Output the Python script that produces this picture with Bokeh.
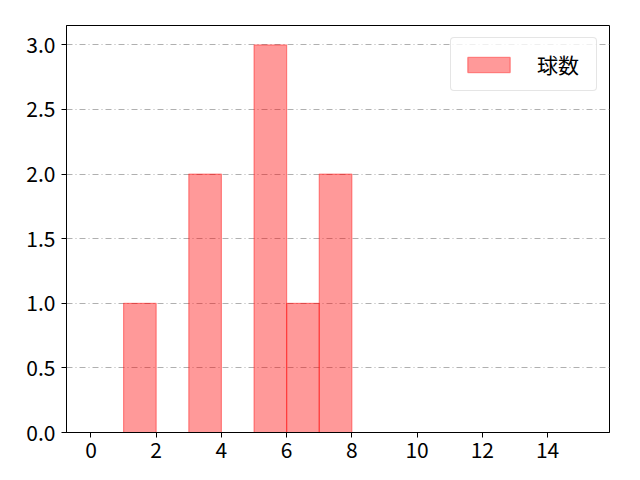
from bokeh.plotting import figure
from bokeh.models import ColumnDataSource, FixedTicker, Range1d, Legend, LegendItem, CustomJSTickFormatter
from bokeh.embed import file_html
from bokeh.resources import INLINE

# ヒストグラムのビン(幅1)と度数
bin_left = [1, 3, 5, 6, 7]
bin_right = [2, 4, 6, 7, 8]
counts = [1, 2, 3, 1, 2]
series_name = "球数"

x_ticks = [0, 2, 4, 6, 8, 10, 12, 14]
y_ticks = [0, 0.5, 1.0, 1.5, 2.0, 2.5, 3.0]

FONT = "Noto Sans CJK JP"

source = ColumnDataSource(data=dict(left=bin_left, right=bin_right, top=counts,
                                    bottom=[0] * len(counts)))

p = figure(width=624, height=464, output_backend="svg", toolbar_location=None,
           x_range=Range1d(-0.75, 15.9), y_range=Range1d(0, 3.15),
           min_border_left=66, min_border_right=15, min_border_top=25, min_border_bottom=32)

bars = p.quad(left="left", right="right", top="top", bottom="bottom", source=source,
              fill_color="red", fill_alpha=0.4, line_color="red", line_alpha=0.4, line_width=1.2)

p.xaxis.ticker = FixedTicker(ticks=x_ticks)
p.yaxis.ticker = FixedTicker(ticks=y_ticks)
p.yaxis.formatter = CustomJSTickFormatter(code="return tick.toFixed(1);")

for ax in (p.xaxis, p.yaxis):
    ax.major_label_text_font = FONT
    ax.major_label_text_font_size = "21px"
    ax.major_label_text_color = "black"
    ax.major_label_standoff = 6
    ax.axis_line_color = "black"
    ax.major_tick_line_color = "black"
    ax.major_tick_out = 5
    ax.major_tick_in = 0
    ax.minor_tick_line_color = None
p.xaxis.major_label_standoff = 4

p.xgrid.grid_line_color = None
p.ygrid.grid_line_color = "#b0b0b0"
p.ygrid.grid_line_dash = "6 3 1 3"
p.ygrid.grid_line_width = 1

p.outline_line_color = "black"
p.outline_line_alpha = 1
p.outline_line_width = 1

legend = Legend(items=[LegendItem(label=series_name, renderers=[bars])],
                location="top_right")
legend.label_text_font = FONT
legend.label_text_font_size = "21px"
legend.label_text_color = "black"
legend.label_height = 20
legend.label_width = 48
legend.border_line_color = "#cccccc"
legend.border_radius = 4
legend.glyph_width = 53
legend.glyph_height = 19
legend.label_standoff = 22
legend.padding = 11
legend.margin = 12
legend.background_fill_alpha = 0.8
p.add_layout(legend)

open("out.html", "w").write(file_html(p, INLINE))
